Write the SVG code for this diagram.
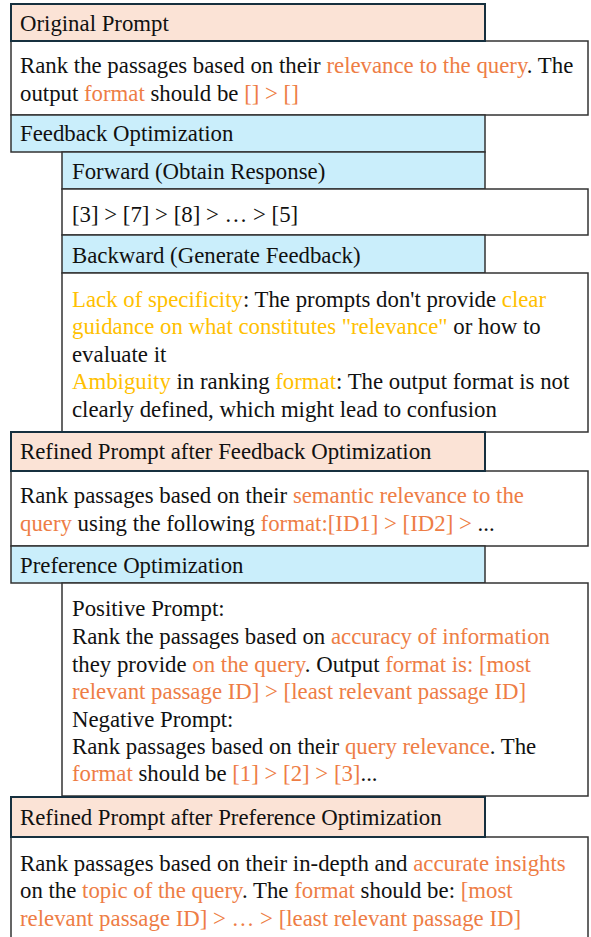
<svg xmlns="http://www.w3.org/2000/svg" width="591" height="937" viewBox="0 0 591 937">
<style>
text{font-family:"Liberation Serif","Times New Roman",serif;font-size:22.8px;fill:#111}
.o{fill:#EE7D45}
.y{fill:#FFC000}
.body{fill:#fff;stroke:#333;stroke-width:1.5}
.peach{fill:#FBE3D6;stroke:#16303F;stroke-width:2}
.blue{fill:#CAEEFB;stroke:#333;stroke-width:1.5}
</style>
<rect width="591" height="937" fill="#fff"/>
<g transform="translate(0,1)">
<g id="original-body"><rect class="body" x="11" y="40" width="577" height="74"/>
<text x="20" y="72">Rank the passages based on their <tspan class="o">relevance to the query</tspan>. The</text>
<text x="20" y="100">output <tspan class="o">format</tspan> should be <tspan class="o">[] &gt; []</tspan></text></g>
<g id="original-header"><rect class="peach" x="11" y="3" width="474" height="37"/>
<text x="20" y="30">Original Prompt</text></g>
<g id="feedback-header"><rect class="blue" x="11" y="114" width="474" height="37"/>
<text x="20" y="140">Feedback Optimization</text></g>
<g id="forward-header"><rect class="blue" x="62" y="151" width="423" height="37"/>
<text x="72" y="178">Forward (Obtain Response)</text></g>
<g id="forward-body"><rect class="body" x="62" y="188" width="526" height="46"/>
<text x="72" y="221">[3] &gt; [7] &gt; [8] &gt; … &gt; [5]</text></g>
<g id="backward-header"><rect class="blue" x="62" y="234" width="423" height="38"/>
<text x="72" y="262">Backward (Generate Feedback)</text></g>
<g id="backward-body"><rect class="body" x="62" y="272" width="526" height="159"/>
<text x="72" y="306"><tspan class="y">Lack of specificity</tspan>: The prompts don't provide <tspan class="y">clear</tspan></text>
<text x="72" y="333"><tspan class="y">guidance on what constitutes "relevance"</tspan> or how to</text>
<text x="72" y="361">evaluate it</text>
<text x="72" y="388"><tspan class="y">Ambiguity</tspan> in ranking <tspan class="y">format</tspan>: The output format is not</text>
<text x="72" y="416">clearly defined, which might lead to confusion</text></g>
<g id="refined-fo-body"><rect class="body" x="11" y="470" width="577" height="75"/>
<text x="20" y="502">Rank passages based on their <tspan class="o">semantic relevance to the</tspan></text>
<text x="20" y="530"><tspan class="o">query</tspan> using the following <tspan class="o">format:[ID1] &gt; [ID2] &gt;</tspan> ...</text></g>
<g id="refined-fo-header"><rect class="peach" x="11" y="431" width="474" height="39"/>
<text x="20" y="458">Refined Prompt after Feedback Optimization</text></g>
<g id="preference-header"><rect class="blue" x="11" y="545" width="474" height="37"/>
<text x="20" y="572">Preference Optimization</text></g>
<g id="preference-body"><rect class="body" x="62" y="582" width="526" height="213"/>
<text x="72" y="615">Positive Prompt:</text>
<text x="72" y="643">Rank the passages based on <tspan class="o">accuracy of information</tspan></text>
<text x="72" y="671">they provide <tspan class="o">on the query</tspan>. Output <tspan class="o">format is: [most</tspan></text>
<text x="72" y="698"><tspan class="o">relevant passage ID] &gt; [least relevant passage ID]</tspan></text>
<text x="72" y="726">Negative Prompt:</text>
<text x="72" y="753">Rank passages based on their <tspan class="o">query relevance</tspan>. The</text>
<text x="72" y="780"><tspan class="o">format</tspan> should be <tspan class="o">[1] &gt; [2] &gt; [3]</tspan>...</text></g>
<g id="refined-po-body"><rect class="body" x="11" y="836" width="577" height="110"/>
<text x="20" y="870">Rank passages based on their in-depth and <tspan class="o">accurate insights</tspan></text>
<text x="20" y="897">on the <tspan class="o">topic of the query</tspan>. The <tspan class="o">format</tspan> should be: <tspan class="o">[most</tspan></text>
<text x="20" y="925"><tspan class="o">relevant passage ID] &gt; … &gt; [least relevant passage ID]</tspan></text></g>
<g id="refined-po-header"><rect class="peach" x="11" y="796" width="474" height="40"/>
<text x="20" y="824">Refined Prompt after Preference Optimization</text></g>
</g>
<g id="connectors"></g>
</svg>
